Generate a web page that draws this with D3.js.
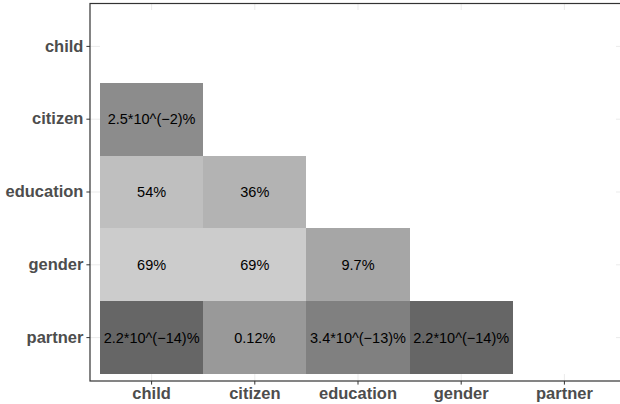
<!DOCTYPE html>
<html>
<head>
<meta charset="utf-8">
<script src="https://cdn.jsdelivr.net/npm/d3@7"></script>
<style>
  html, body { margin: 0; padding: 0; background: #fff; }
  svg { display: block; }
</style>
</head>
<body>
<svg id="chart" width="620" height="404"></svg>
<script>
// Variables compared pairwise (same order on both axes)
const variables = ["child", "citizen", "education", "gender", "partner"];

// Lower-triangle cells: row variable, column variable, p-value in percent and its printed label
const rowVars   = ["citizen", "education", "education", "gender", "gender", "gender", "partner", "partner", "partner", "partner"];
const colVars   = ["child",   "child",     "citizen",   "child",  "citizen", "education", "child", "citizen", "education", "gender"];
const pPercent  = [2.5e-2,    54,          36,          69,       69,        9.7,         2.2e-14, 0.12,      3.4e-13,     2.2e-14];
const pLabels   = ["2.5*10^(\u22122)%", "54%", "36%", "69%", "69%", "9.7%", "2.2*10^(\u221214)%", "0.12%", "3.4*10^(\u221213)%", "2.2*10^(\u221214)%"];

const cells = rowVars.map((r, i) => ({ row: r, col: colVars[i], p: pPercent[i], label: pLabels[i] }));
const lookup = new Map(cells.map(c => [c.row + "|" + c.col, c]));

// Full grid; cells without a test stay blank
const grid = [];
variables.forEach(r => variables.forEach(c => {
  const hit = lookup.get(r + "|" + c);
  grid.push({ row: r, col: c, p: hit ? hit.p : null, label: hit ? hit.label : "" });
}));

const svg = d3.select("#chart");

// Panel geometry
const panel = { left: 90, top: 3.5, right: 626, bottom: 381 };
const x = d3.scaleBand().domain(variables).range([100, 616]).padding(0);
const y = d3.scaleBand().domain(variables).range([10, 374]).padding(0);

// Grey shade by rank of the p-value (nine evenly spaced greys, grey40 to grey80)
const greys = d3.range(9).map(i => d3.interpolateRgb("#666666", "#cccccc")(i / 8));
const distinctP = Array.from(new Set(pPercent)).sort((a, b) => a - b);
const fill = d3.scaleOrdinal()
  .domain(distinctP)
  .range([greys[0]].concat(greys.slice(2)))
  .unknown("#ffffff");

const g = svg.append("g");

// Panel background
g.append("rect")
  .attr("x", panel.left).attr("y", panel.top)
  .attr("width", panel.right - panel.left).attr("height", panel.bottom - panel.top)
  .attr("fill", "#ffffff");

// Major grid lines at category centres
g.append("g").selectAll("line.v").data(variables).join("line")
  .attr("x1", d => x(d) + x.bandwidth() / 2).attr("x2", d => x(d) + x.bandwidth() / 2)
  .attr("y1", panel.top).attr("y2", panel.bottom)
  .attr("stroke", "#ebebeb").attr("stroke-width", 1);
g.append("g").selectAll("line.h").data(variables).join("line")
  .attr("y1", d => y(d) + y.bandwidth() / 2).attr("y2", d => y(d) + y.bandwidth() / 2)
  .attr("x1", panel.left).attr("x2", panel.right)
  .attr("stroke", "#ebebeb").attr("stroke-width", 1);

// Tiles
g.append("g").selectAll("rect").data(grid).join("rect")
  .attr("x", d => x(d.col)).attr("y", d => y(d.row))
  .attr("width", x.bandwidth()).attr("height", y.bandwidth())
  .attr("fill", d => d.p === null ? "#ffffff" : fill(d.p))
  .attr("shape-rendering", "crispEdges");

// Cell labels
g.append("g").selectAll("text").data(cells).join("text")
  .attr("x", d => x(d.col) + x.bandwidth() / 2)
  .attr("y", d => y(d.row) + y.bandwidth() / 2)
  .attr("text-anchor", "middle")
  .attr("dominant-baseline", "central")
  .attr("font-family", "'Liberation Sans', Arial, sans-serif")
  .attr("font-size", 14.5)
  .attr("fill", "#000000")
  .text(d => d.label);

// Panel border
g.append("rect")
  .attr("x", panel.left).attr("y", panel.top)
  .attr("width", panel.right - panel.left).attr("height", panel.bottom - panel.top)
  .attr("fill", "none").attr("stroke", "#333333").attr("stroke-width", 1.2);

// Axes
const xAxis = d3.axisBottom(x).tickSize(3.6).tickPadding(2.5);
const yAxis = d3.axisLeft(y).tickSize(3.6).tickPadding(3);

const gx = svg.append("g").attr("transform", `translate(0,${panel.bottom})`).call(xAxis);
const gy = svg.append("g").attr("transform", `translate(${panel.left},0)`).call(yAxis);

[gx, gy].forEach(a => {
  a.select(".domain").remove();
  a.selectAll(".tick line").attr("stroke", "#333333").attr("stroke-width", 1);
  a.selectAll(".tick text")
    .attr("fill", "#4d4d4d")
    .attr("font-family", "'Liberation Sans', Arial, sans-serif")
    .attr("font-weight", "bold")
    .attr("font-size", 16.5);
});
</script>
</body>
</html>
